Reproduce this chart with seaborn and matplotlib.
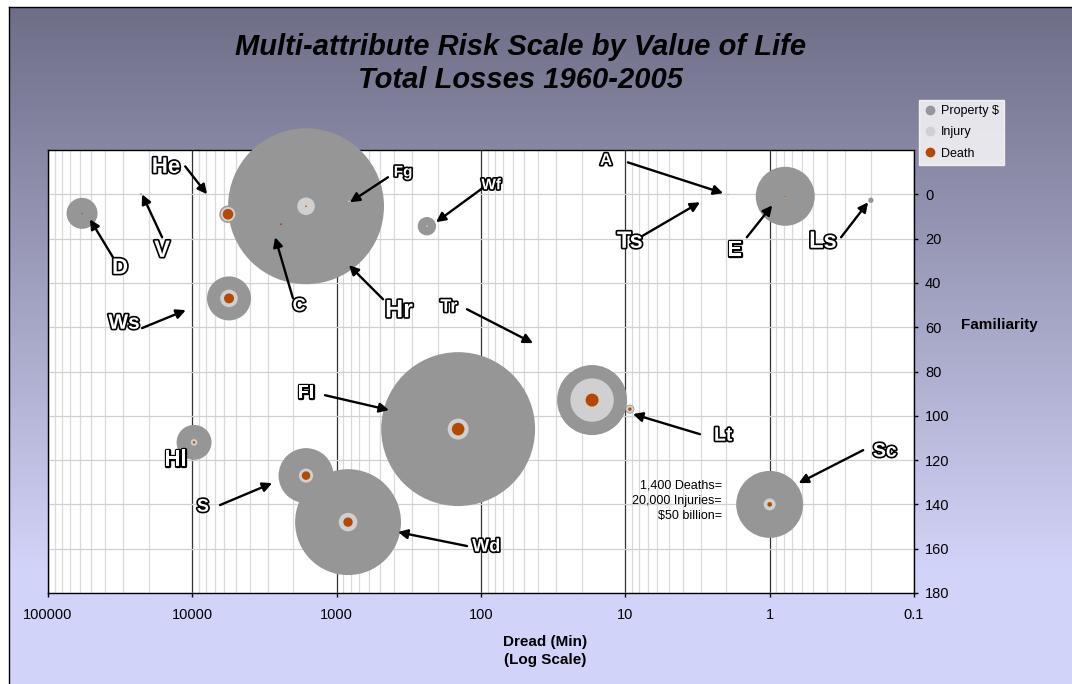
import numpy as np
import pandas as pd
import seaborn as sns
import matplotlib.pyplot as plt
import matplotlib.patheffects as pe
from matplotlib.lines import Line2D
from matplotlib.ticker import FixedLocator, FixedFormatter, NullFormatter

plt.rcParams['font.family'] = ['Liberation Sans', 'DejaVu Sans']

# Hazards, dread (min, log scale), familiarity, losses in $ billion equivalents
hazards = ["D", "V", "He", "Ws", "Hr", "C", "Fg", "Wf", "A", "Ts",
           "E", "Ls", "Tr", "Fl", "Lt", "Hl", "S", "Wd", "Sc"]
dread = [58100, 22700, 5660, 5570, 1630, 2430, 822, 237, 1.94, 2.9,
         0.78, 0.199, 17.0, 144, 9.3, 9730, 1630, 834, 1.0]
familiarity = [8.6, 0, 9, 47, 5.4, 13.5, 3.2, 14.4, 0, 3,
               0.9, 2.7, 92.9, 106, 97, 112, 127, 148, 140]
property_loss = [10.7, 0.045, 3.37, 21.6, 271, 0.0, 0.0, 3.77, 0.01, 0.0,
                 38.8, 0.32, 54.6, 264, 0.9, 13.6, 33.7, 125, 50]
injury_loss = [0.0, 0.02, 2.37, 3.45, 3.45, 0.0, 0.03, 0.03, 0.0, 0.0,
               0.045, 0.0, 21.0, 4.9, 0.61, 0.49, 2.25, 3.85, 1.6]
death_loss = [0.02, 0.01, 1.25, 1.11, 0.03, 0.045, 0.0, 0.0, 0.0, 0.0,
              0.03, 0.0, 1.88, 1.77, 0.13, 0.064, 0.82, 0.98, 0.24]

series_names = ["Property $", "Injury", "Death"]
series_colors = {"Property $": "#969696", "Injury": "#d0d0d0", "Death": "#b34a00"}

x_ticks = [100000, 10000, 1000, 100, 10, 1, 0.1]
x_tick_labels = ["100000", "10000", "1000", "100", "10", "1", "0.1"]
y_ticks = [0, 20, 40, 60, 80, 100, 120, 140, 160, 180]

df = pd.DataFrame({
    "hazard": hazards,
    "dread": dread,
    "familiarity": familiarity,
    "Property $": property_loss,
    "Injury": injury_loss,
    "Death": death_loss,
})
long_df = df.melt(id_vars=["hazard", "dread", "familiarity"],
                  value_vars=series_names, var_name="series", value_name="loss")

fig = plt.figure(figsize=(10.72, 6.84), dpi=100)
fig.patch.set_facecolor("white")

# gradient panel behind everything
bg = fig.add_axes([9 / 1072, -0.02, 1.0, 1 - 7 / 684 + 0.02], zorder=0)
grad = np.linspace(0, 1, 256)
top = np.array([0.431, 0.431, 0.530])
bottom = np.array([0.827, 0.831, 0.976])
frac = np.clip(grad / 0.82, 0, 1)[:, None]
img = top + (bottom - top) * frac
bg.imshow(img[:, None, :], aspect="auto", extent=[0, 1, 0, 1], origin="upper")
bg.set_xticks([])
bg.set_yticks([])
for sp in bg.spines.values():
    sp.set_color("black")
    sp.set_linewidth(1.0)

ax = fig.add_axes([48 / 1072, 1 - 593 / 684, (914 - 48) / 1072, (593 - 150) / 684], zorder=1)
ax.set_facecolor("white")
ax.set_xscale("log")
ax.set_xlim(1e5, 0.1)
ax.set_ylim(180, -20)

vmax = long_df["loss"].max()
sns.scatterplot(data=long_df, x="dread", y="familiarity", hue="series",
                palette=series_colors, size="loss", sizes=(0, 46.5 * vmax),
                size_norm=(0, vmax), linewidth=0, legend=False,
                clip_on=False, zorder=3, ax=ax)

# axes, ticks, grids
ax.xaxis.set_major_locator(FixedLocator(x_ticks))
ax.xaxis.set_major_formatter(FixedFormatter(x_tick_labels))
minor = [m * 10.0 ** e for e in range(-1, 5) for m in range(2, 10)]
ax.xaxis.set_minor_locator(FixedLocator(minor))
ax.xaxis.set_minor_formatter(NullFormatter())
ax.yaxis.tick_right()
ax.set_yticks(y_ticks)
ax.tick_params(axis="x", which="major", direction="out", length=3, width=1,
               pad=8, labelsize=10.5, colors="black")
ax.tick_params(axis="x", which="minor", length=0)
ax.tick_params(axis="y", direction="out", length=3, width=1, pad=5,
               labelsize=10.5, colors="black")
ax.set_axisbelow(True)
ax.grid(which="minor", axis="x", color="#d9d9d9", lw=0.9)
ax.grid(which="major", axis="x", color="#333333", lw=0.9)
ax.grid(which="major", axis="y", color="#d0d0d0", lw=0.9)
for sp in ax.spines.values():
    sp.set_color("black")
    sp.set_linewidth(1.0)
ax.set_xlabel("")
ax.set_ylabel("")

# hazard labels and arrows: (text, text pos, size, arrow start, arrow tip)
notes = [
    ("He", (15200, -12.2), 16, (11200, -12.6), (7910, 0)),
    ("V", (16200, 25.3), 17, (16200, 19.4), (22300, 0)),
    ("D", (31700, 33.4), 16, (35500, 28.4), (51200, 11.3)),
    ("Fg", (347, -9.9), 11, (441, -7.7), (809, 3.6)),
    ("Wf", (85, -4.1), 11, (98, -2.7), (205, 12.6)),
    ("C", (1820, 50.5), 13, (2010, 46.9), (2670, 19.4)),
    ("Hr", (370, 52.3), 18, (477, 47.4), (822, 32)),
    ("Tr", (167, 51), 13, (125, 51.9), (43.6, 67.2)),
    ("Ws", (29700, 58.2), 15, (22300, 60.4), (11100, 52.3)),
    ("A", (13.6, -15.3), 12, (9.6, -14.4), (2.1, -0.5)),
    ("Ts", (9.3, 21.2), 17, (7.9, 19.4), (3.04, 3.6)),
    ("E", (1.74, 25.3), 16, (1.44, 19.4), (0.96, 5)),
    ("Ls", (0.427, 21.2), 17, (0.32, 19.4), (0.208, 3.6)),
    ("Fl", (1630, 89.8), 13, (1205, 90.7), (434, 97.4)),
    ("Hl", (13000, 120), 16, None, None),
    ("S", (8440, 141.2), 13, (6430, 140.3), (2800, 130.4)),
    ("Wd", (92, 159.2), 13, (125, 158.8), (376, 152.5)),
    ("Lt", (2.1, 109.2), 14, (3.04, 108.3), (8.85, 99.2)),
    ("Sc", (0.159, 116.4), 14, (0.225, 115.5), (0.63, 130.4)),
]
for label, pos, fs, start, tip in notes:
    ax.text(pos[0], pos[1], label, fontsize=fs, fontweight="bold", color="white",
            ha="center", va="center", zorder=6, clip_on=False,
            path_effects=[pe.withStroke(linewidth=2.4, foreground="black")])
    if start is not None:
        ax.annotate("", xy=tip, xytext=start, zorder=5, annotation_clip=False,
                    arrowprops=dict(arrowstyle="-|>", color="black", lw=1.7,
                                    mutation_scale=14, shrinkA=0, shrinkB=0))

ax.text(2.14, 138.5, "1,400 Deaths=\n20,000 Injuries=\n$50 billion=",
        ha="right", va="center", fontsize=9, linespacing=1.35, zorder=6)

# titles
fig.text(521 / 1072, 1 - 47 / 684, "Multi-attribute Risk Scale by Value of Life",
         ha="center", va="center", fontsize=21, fontweight="bold", style="italic")
fig.text(521 / 1072, 1 - 80 / 684, "Total Losses 1960-2005",
         ha="center", va="center", fontsize=21, fontweight="bold", style="italic")
fig.text(545 / 1072, 1 - 651 / 684, "Dread (Min)\n(Log Scale)", ha="center",
         va="center", fontsize=11, fontweight="bold", linespacing=1.3)
fig.text(961 / 1072, 1 - 325 / 684, "Familiarity", ha="left", va="center",
         fontsize=11, fontweight="bold")

handles = [Line2D([], [], marker="o", linestyle="", markersize=7,
                  markerfacecolor=series_colors[s], markeredgewidth=0)
           for s in series_names]
leg = fig.legend(handles, series_names, loc="upper left",
                 bbox_to_anchor=(919 / 1072, 1 - 100 / 684), fontsize=9,
                 frameon=True, fancybox=False, borderaxespad=0, borderpad=0.4,
                 handletextpad=0.35, handlelength=1.0, labelspacing=0.75)
leg.get_frame().set_facecolor("white")
leg.get_frame().set_edgecolor("white")

fig.savefig("out.png", dpi=100)
